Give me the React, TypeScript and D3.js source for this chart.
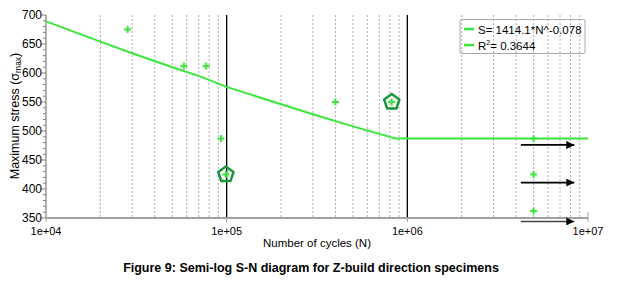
import React from "react";
import * as d3 from "d3";

const W = 623;
const H = 290;

// Test data (cycles, stress)
const pointN = [2.83e4, 5.8e4, 7.7e4, 9.3e4, 9.9e4, 4.0e5, 8.2e5];
const pointS = [675, 612, 612, 487, 425, 550, 550];
// Highlighted (pentagon) specimens
const highlightN = [9.9e4, 8.2e5];
const highlightS = [425, 550];
// Run-outs
const runoutN = [5.0e6, 5.0e6, 5.0e6];
const runoutS = [487, 425, 362];
const arrowS = [476, 411, 344];
const arrowFromN = 4.25e6;
const arrowToN = 8.4e6;
// Fitted S-N curve with endurance plateau
const fitN = [1e4, 2e4, 3e4, 5e4, 7e4, 1e5, 2e5, 3e5, 5e5, 7e5, 8.6e5, 1e7];
const fitS = [689, 654, 634, 610, 595, 576, 546, 529, 508, 495, 487, 487];

const yTicks = [350, 400, 450, 500, 550, 600, 650, 700];
const xTicks = [1e4, 1e5, 1e6, 1e7];
const xTickLabels = ["1e+04", "1e+05", "1e+06", "1e+07"];
const legendLabels = ["S= 1414.1*N^-0.078", "R² = 0.3644"];

export default function App() {
  const x = d3.scaleLog().domain([1e4, 1e7]).range([46, 588]);
  const y = d3.scaleLinear().domain([350, 700]).range([218, 15]);
  const top = y(700);
  const bottom = y(350);
  const left = x(1e4);
  const right = x(1e7);

  const minorX: number[] = [];
  for (let dec = 1e4; dec < 1e7; dec *= 10) {
    for (let k = 2; k <= 9; k++) minorX.push(k * dec);
  }
  const minorY = d3.range(350, 701, 10);

  const line = d3
    .line<number>()
    .x((_, i) => x(fitN[i]))
    .y((d) => y(d));

  const font = "'Liberation Sans', Arial, sans-serif";
  const green = "#3be63b";
  const dark = "#17963a";

  const pent = (cx: number, cy: number, r: number) =>
    d3.range(5)
      .map((i) => {
        const a = -Math.PI / 2 + (i * 2 * Math.PI) / 5;
        return `${cx + r * Math.cos(a)},${cy + r * Math.sin(a)}`;
      })
      .join(" ");

  return (
    <svg width={W} height={H} style={{ position: "absolute", left: 0, top: 0, background: "#fff" }}>
      <defs>
        <marker id="ah" viewBox="0 0 10 10" refX="10" refY="5" markerWidth="10" markerHeight="8" markerUnits="userSpaceOnUse" orient="auto">
          <path d="M0,0 L10,5 L0,10 Z" fill="#000" />
        </marker>
      </defs>
      {/* minor grid */}
      {minorX.map((v) => (
        <line key={v} x1={x(v)} x2={x(v)} y1={top} y2={bottom} stroke="#9a9a9a" strokeWidth={0.8} strokeDasharray="2,2" />
      ))}
      {[1e5, 1e6].map((v) => (
        <line key={v} x1={x(v)} x2={x(v)} y1={top} y2={bottom} stroke="#000" strokeWidth={1.3} />
      ))}
      {/* axes */}
      <line x1={left} x2={left} y1={top} y2={bottom} stroke="#808080" strokeWidth={1.2} />
      <line x1={left} x2={right} y1={bottom} y2={bottom} stroke="#a0a0a0" strokeWidth={2} />
      {minorY.map((v) => (
        <line key={v} x1={left - (v % 50 === 0 ? 5 : 3)} x2={left} y1={y(v)} y2={y(v)} stroke="#808080" strokeWidth={1} />
      ))}
      {xTicks.map((v) => (
        <line key={v} x1={x(v)} x2={x(v)} y1={bottom} y2={bottom + 4} stroke="#a0a0a0" strokeWidth={1} />
      ))}
      <line x1={right} x2={right} y1={bottom - 6} y2={bottom} stroke="#a0a0a0" strokeWidth={1} />
      {yTicks.map((v) => (
        <text key={v} x={left - 4} y={y(v) + 4} textAnchor="end" fontFamily={font} fontSize={12} fill="#000">
          {v}
        </text>
      ))}
      {xTicks.map((v, i) => (
        <text key={v} x={x(v)} y={234.5} textAnchor="middle" fontFamily={font} fontSize={11} fill="#000">
          {xTickLabels[i]}
        </text>
      ))}
      <text x={317} y={247} textAnchor="middle" fontFamily={font} fontSize={11.5} fill="#000">
        Number of cycles (N)
      </text>
      <text transform="translate(19,116) rotate(-90)" textAnchor="middle" fontFamily={font} fontSize={12.5} fill="#000">
        Maximum stress (σ<tspan fontSize={8.5} dy={2}>max</tspan>
        <tspan dy={-2}>)</tspan>
      </text>
      {/* fit line */}
      <path d={line(fitS) || ""} fill="none" stroke={green} strokeWidth={2} />
      {/* pentagons */}
      {highlightN.map((n, i) => (
        <polygon key={i} points={pent(x(n), y(highlightS[i]), 8)} fill="none" stroke={dark} strokeWidth={2.5} strokeLinejoin="round" />
      ))}
      {/* data points */}
      {pointN.concat(runoutN).map((n, i) => {
        const s = pointS.concat(runoutS)[i];
        const cx = x(n);
        const cy = y(s);
        return (
          <g key={i} stroke={green} strokeWidth={2}>
            <line x1={cx - 3.5} x2={cx + 3.5} y1={cy} y2={cy} />
            <line x1={cx} x2={cx} y1={cy - 3.5} y2={cy + 3.5} />
          </g>
        );
      })}
      {/* run-out arrows */}
      {arrowS.map((s, i) => (
        <line key={i} x1={x(arrowFromN)} x2={x(arrowToN)} y1={y(s)} y2={y(s)} stroke={i === 2 ? "#444" : "#000"} strokeWidth={1.6} markerEnd="url(#ah)" />
      ))}
      {/* legend */}
      <rect x={460} y={19.5} width={125} height={34} fill="none" stroke="#a8a8a8" strokeWidth={1} rx={1.5} />
      {legendLabels.map((t, i) => (
        <g key={i}>
          <line x1={464} x2={474} y1={29 + i * 16} y2={29 + i * 16} stroke={green} strokeWidth={2.5} />
          <text x={478} y={33.5 + i * 16} fontFamily={font} fontSize={11.5} fill="#000">
            {i === 0 ? t : (
              <>
                R<tspan fontSize={7} dy={-5}>2</tspan>
                <tspan dy={5}>= 0.3644</tspan>
              </>
            )}
          </text>
        </g>
      ))}
      <text x={311} y={272} textAnchor="middle" fontFamily={font} fontSize={12.5} fontWeight="bold" fill="#000">
        Figure 9: Semi-log S-N diagram for Z-build direction specimens
      </text>
    </svg>
  );
}
